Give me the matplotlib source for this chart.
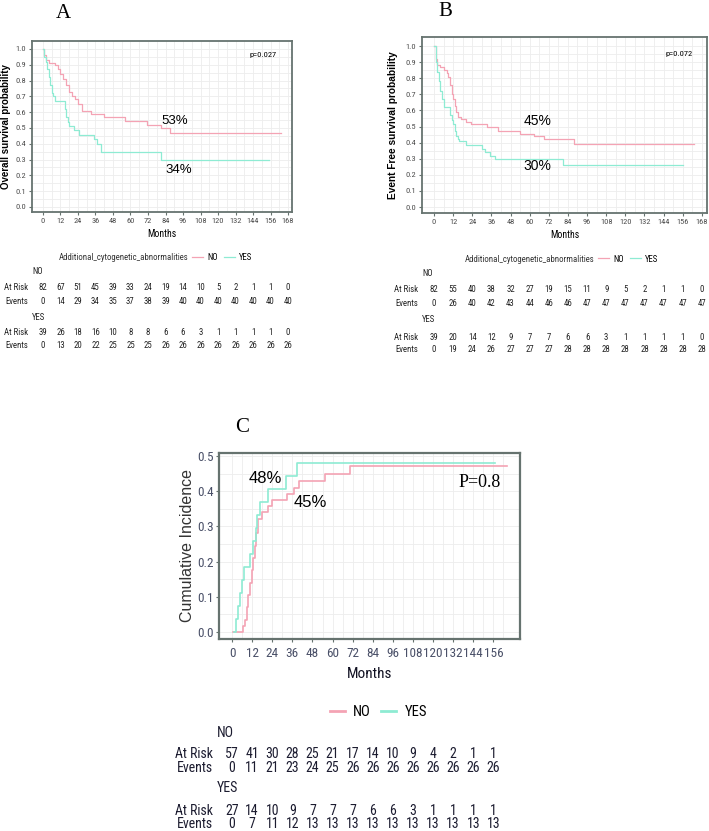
import matplotlib
matplotlib.use('Agg')
import matplotlib.pyplot as plt
from matplotlib.transforms import blended_transform_factory
import numpy as np

W, H = 709, 831
NARROW = ['Roboto Condensed', 'Liberation Sans', 'DejaVu Sans']
SANS = ['Liberation Sans', 'DejaVu Sans']
SERIF = ['Liberation Serif', 'DejaVu Serif']

PINK = '#F4A3B4'
GREEN = '#8EEBD3'
FRAME = '#66736f'
GRID = '#EDEDED'

# ---- panel A : overall survival ----
a_no_t = [0, 1, 2, 4, 8, 10, 12, 14, 16, 18, 20, 22, 24, 27, 33, 42, 56, 71, 81, 87, 163]
a_no_s = [1.0, 0.96, 0.93, 0.91, 0.90, 0.87, 0.84, 0.81, 0.77, 0.73, 0.70, 0.68, 0.65, 0.61,
          0.59, 0.57, 0.545, 0.52, 0.50, 0.465, 0.465]
a_yes_t = [0, 1, 2, 3, 4, 5, 6, 7, 8, 15, 16, 17, 18, 21, 25, 35, 37, 40, 81, 155]
a_yes_s = [1.0, 0.95, 0.92, 0.87, 0.82, 0.77, 0.72, 0.70, 0.67, 0.62, 0.57, 0.54, 0.51, 0.485,
           0.455, 0.43, 0.40, 0.345, 0.295, 0.295]

# ---- panel B : event free survival ----
b_no_t = [0, 1, 2, 4, 6, 8, 9, 10, 11, 12, 13, 14, 15, 17, 20, 23, 33, 40, 54, 63, 69, 88, 163]
b_no_s = [1.0, 0.92, 0.88, 0.87, 0.85, 0.83, 0.81, 0.76, 0.70, 0.67, 0.63, 0.59, 0.56, 0.545,
          0.53, 0.515, 0.495, 0.475, 0.455, 0.44, 0.425, 0.39, 0.39]
b_yes_t = [0, 1, 2, 3, 4, 5, 6, 10, 11, 12, 13, 14, 15, 16, 20, 30, 32, 35, 38, 81, 156]
b_yes_s = [1.0, 0.90, 0.84, 0.78, 0.72, 0.67, 0.62, 0.57, 0.54, 0.515, 0.47, 0.44, 0.425, 0.41,
           0.385, 0.36, 0.34, 0.32, 0.30, 0.26, 0.26]

# ---- panel C : cumulative incidence ----
c_no_t = [0.8, 6.4, 7.8, 8.8, 9.8, 10.7, 11.7, 12.7, 13.7, 14.3, 15.3, 17.7, 21.7, 24, 33, 37,
          40, 55.5, 70.4, 164]
c_no_s = [0, 0.018, 0.035, 0.07, 0.105, 0.14, 0.175, 0.21, 0.245, 0.28, 0.32, 0.34, 0.357,
          0.375, 0.393, 0.41, 0.428, 0.45, 0.472, 0.472]
c_yes_t = [1.2, 2.2, 3.4, 4.8, 5.8, 7.4, 10.7, 12.7, 14, 14.7, 16.7, 21.7, 32, 39, 157]
c_yes_s = [0, 0.037, 0.074, 0.111, 0.148, 0.185, 0.222, 0.259, 0.296, 0.333, 0.37, 0.407,
           0.444, 0.481, 0.481]

# risk tables
ab_times = list(range(0, 169, 12))
c_times = list(range(0, 157, 12))
a_no_risk = [82, 67, 51, 45, 39, 33, 24, 19, 14, 10, 5, 2, 1, 1, 0]
a_no_events = [0, 14, 29, 34, 35, 37, 38, 39, 40, 40, 40, 40, 40, 40, 40]
a_yes_risk = [39, 26, 18, 16, 10, 8, 8, 6, 6, 3, 1, 1, 1, 1, 0]
a_yes_events = [0, 13, 20, 22, 25, 25, 25, 26, 26, 26, 26, 26, 26, 26, 26]
b_no_risk = [82, 55, 40, 38, 32, 27, 19, 15, 11, 9, 5, 2, 1, 1, 0]
b_no_events = [0, 26, 40, 42, 43, 44, 46, 46, 47, 47, 47, 47, 47, 47, 47]
b_yes_risk = [39, 20, 14, 12, 9, 7, 7, 6, 6, 3, 1, 1, 1, 1, 0]
b_yes_events = [0, 19, 24, 26, 27, 27, 27, 28, 28, 28, 28, 28, 28, 28, 28]
c_no_risk = [57, 41, 30, 28, 25, 21, 17, 14, 10, 9, 4, 2, 1, 1]
c_no_events = [0, 11, 21, 23, 24, 25, 26, 26, 26, 26, 26, 26, 26, 26]
c_yes_risk = [27, 14, 10, 9, 7, 7, 7, 6, 6, 3, 1, 1, 1, 1]
c_yes_events = [0, 7, 11, 12, 13, 13, 13, 13, 13, 13, 13, 13, 13, 13]


def rect(left, top, right, bottom):
    return [left / W, 1 - bottom / H, (right - left) / W, (bottom - top) / H]


def fy(py):
    return 1 - py / H


fig = plt.figure(figsize=(W / 100, H / 100), dpi=100)


def style_axes(ax, xlim, ylim, yticks, ymin, xticks, xmin, fs, tcolor, lw, xpad, ypad):
    ax.set_xlim(*xlim)
    ax.set_ylim(*ylim)
    ax.set_xticks(xticks)
    ax.set_xticks(xmin, minor=True)
    ax.set_yticks(yticks)
    ax.set_yticks(ymin, minor=True)
    ax.grid(True, which='both', color=GRID, lw=0.6)
    ax.set_axisbelow(True)
    for s in ax.spines.values():
        s.set_color(FRAME)
        s.set_linewidth(lw)
    ax.tick_params(which='major', length=2.5, width=0.8, color=FRAME, labelsize=fs,
                   labelcolor=tcolor)
    ax.tick_params(axis='x', pad=xpad)
    ax.tick_params(axis='y', pad=ypad)
    ax.tick_params(which='minor', length=0)
    for lab in ax.get_xticklabels() + ax.get_yticklabels():
        lab.set_family(NARROW)


def km_panel(ax, t_no, s_no, t_yes, s_yes, lw):
    l1, = ax.step(t_no, s_no, where='post', color=PINK, lw=lw)
    l2, = ax.step(t_yes, s_yes, where='post', color=GREEN, lw=lw)
    return l1, l2


def risk_table(ax, times, rows, ys, label_x, fs, color):
    tr = blended_transform_factory(ax.transData, fig.transFigure)
    for (name, vals), y in zip(rows, ys):
        if vals is None:
            fig.text((label_x + 4) / W, fy(y), name, fontsize=fs, color=color,
                     family=NARROW, va='center', ha='left')
            continue
        fig.text(label_x / W, fy(y), name, fontsize=fs, color=color, family=NARROW,
                 va='center', ha='right')
        for t, v in zip(times, vals):
            ax.text(t, fy(y), str(v), transform=tr, fontsize=fs, color=color,
                    family=NARROW, va='center', ha='center')


# ---------------- A ----------------
axA = fig.add_axes(rect(32, 41, 292, 212))
lA = km_panel(axA, a_no_t, a_no_s, a_yes_t, a_yes_s, 0.9)
style_axes(axA, (-7.5, 170.7), (-0.032, 1.05), np.arange(0, 1.01, 0.1), np.arange(0.05, 1.0, 0.1),
           ab_times, np.arange(6, 169, 12), 6, '#4d4d4d', 1.3, 1.8, 1.8)
axA.set_yticklabels([f'{v:.1f}' for v in np.arange(0, 1.01, 0.1)])
axA.set_ylabel('Overall survival probability', fontsize=7, fontweight='bold', family=SANS,
               labelpad=3)
axA.set_xlabel('Months', fontsize=7, family=NARROW, labelpad=3.5)
axA.text(160, 0.96, 'p=0.027', fontsize=6, family=NARROW, ha='right', va='center')
axA.text(90, 0.545, '53%', fontsize=9.5, family=SANS, ha='center', va='center')
axA.text(93, 0.235, '34%', fontsize=9.5, family=SANS, ha='center', va='center')
fig.text(63 / W, fy(13), 'A', fontsize=15, family=SERIF, ha='center', va='center')

fig.text(188 / W, fy(258), 'Additional_cytogenetic_abnormalities', fontsize=6.3, family=NARROW,
         ha='right', va='center', color='#333333')
fig.legend(lA, ['NO', 'YES'], loc='center left', bbox_to_anchor=(192 / W, fy(258)), ncol=2,
           frameon=False, handlelength=1.3, handletextpad=0.5, columnspacing=0.6,
           borderpad=0, borderaxespad=0, prop={'family': NARROW, 'size': 6.3})
risk_table(axA, ab_times,
           [('NO', None), ('At Risk', a_no_risk), ('Events', a_no_events),
            ('YES', None), ('At Risk', a_yes_risk), ('Events', a_yes_events)],
           [272, 288, 301, 317, 332, 346], 28, 6.3, '#222222')

# ---------------- B ----------------
axB = fig.add_axes(rect(422, 37, 707, 213))
lB = km_panel(axB, b_no_t, b_no_s, b_yes_t, b_yes_s, 0.9)
style_axes(axB, (-7.5, 171.2), (-0.037, 1.056), np.arange(0, 1.01, 0.1), np.arange(0.05, 1.0, 0.1),
           ab_times, np.arange(6, 169, 12), 6, '#4d4d4d', 1.3, 1.8, 1.8)
axB.set_yticklabels([f'{v:.1f}' for v in np.arange(0, 1.01, 0.1)])
axB.set_ylabel('Event Free survival probability', fontsize=7.3, fontweight='bold', family=SANS,
               labelpad=5)
axB.set_xlabel('Months', fontsize=7, family=NARROW, labelpad=3.5)
axB.text(162, 0.95, 'p=0.072', fontsize=6, family=NARROW, ha='right', va='center')
axB.text(65, 0.535, '45%', fontsize=10, family=SANS, ha='center', va='center')
axB.text(65, 0.255, '30%', fontsize=10, family=SANS, ha='center', va='center')
fig.text(445 / W, fy(12), 'B', fontsize=15, family=SERIF, ha='center', va='center')

fig.text(594 / W, fy(259), 'Additional_cytogenetic_abnormalities', fontsize=6.3, family=NARROW,
         ha='right', va='center', color='#333333')
fig.legend(lB, ['NO', 'YES'], loc='center left', bbox_to_anchor=(598 / W, fy(259)), ncol=2,
           frameon=False, handlelength=1.3, handletextpad=0.5, columnspacing=0.6,
           borderpad=0, borderaxespad=0, prop={'family': NARROW, 'size': 6.3})
risk_table(axB, ab_times,
           [('NO', None), ('At Risk', b_no_risk), ('Events', b_no_events),
            ('YES', None), ('At Risk', b_yes_risk), ('Events', b_yes_events)],
           [273, 290, 303, 319, 337, 349], 418, 6.3, '#222222')

# ---------------- C ----------------
axC = fig.add_axes(rect(219, 453, 520, 639))
lC = km_panel(axC, c_no_t, c_no_s, c_yes_t, c_yes_s, 1.2)
style_axes(axC, (-7.8, 171.9), (-0.02, 0.5085), np.arange(0, 0.51, 0.1), np.arange(0.05, 0.5, 0.1),
           c_times, np.arange(6, 169, 12), 9.5, '#4a5068', 1.6, 3.5, 1.5)
axC.set_yticklabels([f'{v:.1f}' for v in np.arange(0, 0.51, 0.1)])
axC.set_ylabel('Cumulative Incidence', fontsize=11.5, family=SANS, color='#333333', labelpad=1.5)
axC.set_xlabel('Months', fontsize=11, family=NARROW, color='#111122', labelpad=5)
axC.text(20, 0.437, '48%', fontsize=12, family=SANS, ha='center', va='center')
axC.text(47, 0.369, '45%', fontsize=12, family=SANS, ha='center', va='center')
axC.text(148, 0.425, 'P=0.8', fontsize=13, family=SERIF, ha='center', va='center')
fig.text(242 / W, fy(427), 'C', fontsize=15, family=SERIF, ha='center', va='center')

legC = fig.legend(lC, ['NO', 'YES'], loc='center left', bbox_to_anchor=(330 / W, fy(712)), ncol=2,
                  frameon=False, handlelength=1.0, handletextpad=0.6, columnspacing=0.7,
                  borderpad=0, borderaxespad=0, prop={'family': NARROW, 'size': 10.5})
for h in legC.get_lines():
    h.set_linewidth(2)
risk_table(axC, c_times,
           [('NO', None), ('At Risk', c_no_risk), ('Events', c_no_events),
            ('YES', None), ('At Risk', c_yes_risk), ('Events', c_yes_events)],
           [733, 754, 768, 788, 811, 824], 213, 10, '#1c1c30')

fig.savefig('out.png', dpi=100)
